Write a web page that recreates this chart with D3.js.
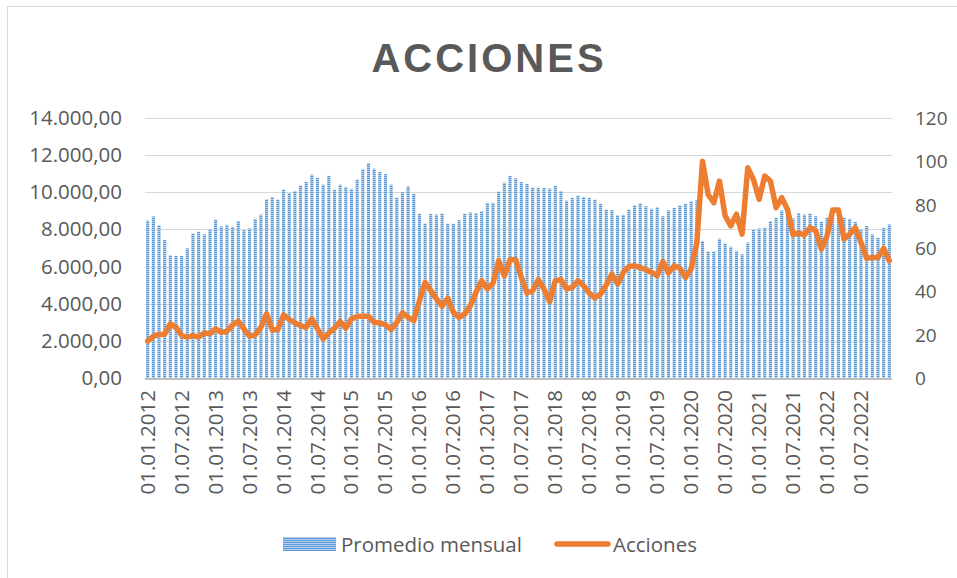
<!DOCTYPE html>
<html>
<head>
<meta charset="utf-8">
<script src="https://cdn.jsdelivr.net/npm/d3@7"></script>
<style>
    html, body { margin: 0; padding: 0; background: #ffffff; }
    #chart { width: 957px; height: 578px; }
</style>
</head>
<body>
<div id="chart"></div>
<script>
// Acciones: monthly average (bars, left axis) and Acciones index (line, right axis)
// months from 01.2012 to 12.2022

var promedioMensual = [
    8480, 8700, 8230, 7430, 6610, 6570, 6570, 6980, 7790, 7880, 7730, 8000,
    8520, 8160, 8250, 8130, 8450, 7960, 8050, 8570, 8800, 9630, 9750, 9610,
    10140, 9960, 10070, 10360, 10550, 10950, 10770, 10410, 10890, 10140, 10410, 10290,
    10180, 10680, 11250, 11570, 11270, 11090, 10980, 10410, 9710, 10000, 10320, 9910,
    8840, 8320, 8840, 8800, 8860, 8320, 8300, 8500, 8860, 8910, 8890, 8980,
    9430, 9430, 10040, 10520, 10880, 10750, 10550, 10450, 10250, 10250, 10230, 10200,
    10340, 10070, 9550, 9700, 9820, 9750, 9700, 9610, 9380, 9070, 9040, 8770,
    8790, 9070, 9300, 9410, 9250, 9110, 9200, 8710, 9020, 9160, 9300, 9380,
    9520, 9570, 7380, 6820, 6820, 7500, 7250, 7070, 6840, 6660, 7290, 8000,
    8050, 8090, 8450, 8630, 9020, 8840, 8590, 8890, 8800, 8860, 8710, 8410,
    8630, 8700, 8600, 8630, 8570, 8410, 8000, 8180, 7730, 7550, 8090, 8270
];

var acciones = [
    17.0, 19.2, 20.1, 20.2, 25.0, 23.4, 19.6, 18.9, 19.6, 18.9, 20.8, 20.4,
    22.7, 21.1, 21.5, 24.5, 26.2, 22.7, 19.2, 19.9, 23.4, 29.6, 22.2, 22.4,
    29.1, 27.0, 25.4, 24.2, 23.4, 27.3, 22.7, 18.1, 20.8, 23.0, 26.1, 23.0,
    27.3, 28.4, 28.5, 28.5, 25.7, 25.4, 24.5, 22.4, 25.7, 30.0, 28.0, 26.5,
    35.7, 44.1, 40.3, 36.5, 33.1, 36.8, 30.3, 28.0, 29.6, 33.4, 39.5, 44.9,
    41.1, 43.8, 54.1, 47.2, 54.6, 54.6, 46.4, 39.2, 40.3, 45.4, 41.1, 35.2,
    44.9, 45.4, 41.1, 41.8, 44.9, 42.6, 39.2, 36.9, 38.8, 42.9, 48.0, 43.4,
    48.7, 51.5, 51.8, 51.0, 50.0, 48.7, 47.2, 53.8, 48.5, 51.8, 50.6, 46.4,
    50.3, 62.5, 100.0, 84.7, 80.9, 90.9, 74.8, 70.2, 75.6, 66.4, 97.0, 91.6,
    82.5, 93.2, 90.9, 78.6, 83.2, 77.9, 66.1, 67.0, 65.9, 69.4, 67.9, 59.5,
    65.6, 77.5, 77.5, 64.1, 66.4, 69.4, 62.5, 55.2, 55.6, 55.6, 59.8, 54.1
];

var leftTicks = [0, 2000, 4000, 6000, 8000, 10000, 12000, 14000];
var rightTicks = [0, 20, 40, 60, 80, 100, 120];

// month labels dd.mm.yyyy
var months = [];
for (var y = 2012; y <= 2022; y++) {
    for (var m = 1; m <= 12; m++) {
        months.push("01." + (m < 10 ? "0" + m : m) + "." + y);
    }
}

var width = 957;
var height = 578;
var labelFont = "Open Sans, Liberation Sans, sans-serif";

var margin = {
    top: 118,
    right: 65,
    bottom: 200,
    left: 145
};

var svg = d3.select("#chart")
    .append("svg")
    .attr("width", width)
    .attr("height", height);

// bar fill pattern: narrow horizontal stripes
var defs = svg.append("defs");

var pattern = defs.append("pattern")
    .attr("id", "stripes")
    .attr("patternUnits", "userSpaceOnUse")
    .attr("width", 4)
    .attr("height", 2);

pattern.append("rect")
    .attr("width", 4)
    .attr("height", 2)
    .attr("fill", "#b3cfee");

pattern.append("rect")
    .attr("width", 4)
    .attr("height", 1)
    .attr("fill", "#5b9bd5");

// chart border
svg.append("rect")
    .attr("x", 7.5)
    .attr("y", 6.5)
    .attr("width", width + 10)
    .attr("height", height + 10)
    .attr("fill", "none")
    .attr("stroke", "#d9d9d9")
    .attr("stroke-width", 1);

var plotRight = 892;
var plotBottom = 378;

var xScale = d3.scaleBand()
    .domain(months)
    .range([margin.left, plotRight])
    .paddingInner(0.45)
    .paddingOuter(0.2);

var yLeft = d3.scaleLinear()
    .domain([0, 14000])
    .range([plotBottom, margin.top]);

var yRight = d3.scaleLinear()
    .domain([0, 120])
    .range([plotBottom, margin.top]);

var fmt = function(v) {
    var s = d3.format(",.2f")(v);
    return s.replace(/,/g, "#").replace(/\./g, ",").replace(/#/g, ".");
};

// title
svg.append("text")
    .attr("x", 489)
    .attr("y", 72)
    .attr("text-anchor", "middle")
    .attr("fill", "#595959")
    .attr("font-family", "Liberation Sans, Arial, sans-serif")
    .attr("font-size", "40px")
    .attr("font-weight", "bold")
    .attr("letter-spacing", "3px")
    .text("ACCIONES");

// gridlines
svg.selectAll(".grid")
    .data(leftTicks.slice(1))
    .enter()
    .append("line")
    .attr("class", "grid")
    .attr("x1", margin.left)
    .attr("x2", plotRight)
    .attr("y1", function(d) { return Math.round(yLeft(d)) + 0.5; })
    .attr("y2", function(d) { return Math.round(yLeft(d)) + 0.5; })
    .attr("stroke", "#d9d9d9")
    .attr("stroke-width", 1);

// left axis labels
svg.selectAll(".ltick")
    .data(leftTicks)
    .enter()
    .append("text")
    .attr("x", 122)
    .attr("y", function(d) { return yLeft(d) + 7; })
    .attr("text-anchor", "end")
    .attr("fill", "#595959")
    .attr("font-family", labelFont)
    .attr("font-size", "20.5px")
    .text(function(d) { return fmt(d); });

// right axis labels
svg.selectAll(".rtick")
    .data(rightTicks)
    .enter()
    .append("text")
    .attr("x", 915)
    .attr("y", function(d) { return yRight(d) + 7; })
    .attr("text-anchor", "start")
    .attr("fill", "#595959")
    .attr("font-family", labelFont)
    .attr("font-size", "19px")
    .text(function(d) { return d; });

// bars
svg.selectAll(".bar")
    .data(promedioMensual)
    .enter()
    .append("rect")
    .attr("class", "bar")
    .attr("x", function(d, i) { return xScale(months[i]); })
    .attr("width", xScale.bandwidth())
    .attr("y", function(d) { return yLeft(d); })
    .attr("height", function(d) { return plotBottom - yLeft(d); })
    .attr("fill", "url(#stripes)");

// category axis baseline
svg.append("line")
    .attr("x1", margin.left)
    .attr("x2", plotRight)
    .attr("y1", plotBottom + 1)
    .attr("y2", plotBottom + 1)
    .attr("stroke", "#bfbfbf")
    .attr("stroke-width", 2);

// x labels every 6 months, rotated
svg.selectAll(".xlabel")
    .data(months.filter(function(d, i) { return i % 6 === 0; }))
    .enter()
    .append("text")
    .attr("transform", function(d) {
        var cx = xScale(d) + xScale.bandwidth() / 2 + 7;
        return "translate(" + cx + "," + 390 + ") rotate(-90)";
    })
    .attr("text-anchor", "end")
    .attr("fill", "#595959")
    .attr("font-family", labelFont)
    .attr("font-size", "20.5px")
    .text(function(d) { return d; });

// line
var line = d3.line()
    .x(function(d, i) { return xScale(months[i]) + xScale.bandwidth() / 2; })
    .y(function(d) { return yRight(d); });

svg.append("path")
    .datum(acciones)
    .attr("d", line)
    .attr("fill", "none")
    .attr("stroke", "#ed7d31")
    .attr("stroke-width", 5.5)
    .attr("stroke-linejoin", "round")
    .attr("stroke-linecap", "round");

// legend
svg.append("rect")
    .attr("x", 283)
    .attr("y", 537)
    .attr("width", 53)
    .attr("height", 14)
    .attr("fill", "url(#stripes)");

svg.append("text")
    .attr("x", 341)
    .attr("y", 552)
    .attr("fill", "#595959")
    .attr("font-family", labelFont)
    .attr("font-size", "20.5px")
    .text("Promedio mensual");

svg.append("line")
    .attr("x1", 557)
    .attr("x2", 608)
    .attr("y1", 544)
    .attr("y2", 544)
    .attr("stroke", "#ed7d31")
    .attr("stroke-width", 5.5)
    .attr("stroke-linecap", "round");

svg.append("text")
    .attr("x", 613)
    .attr("y", 552)
    .attr("fill", "#595959")
    .attr("font-family", labelFont)
    .attr("font-size", "20.5px")
    .text("Acciones");
</script>
</body>
</html>
